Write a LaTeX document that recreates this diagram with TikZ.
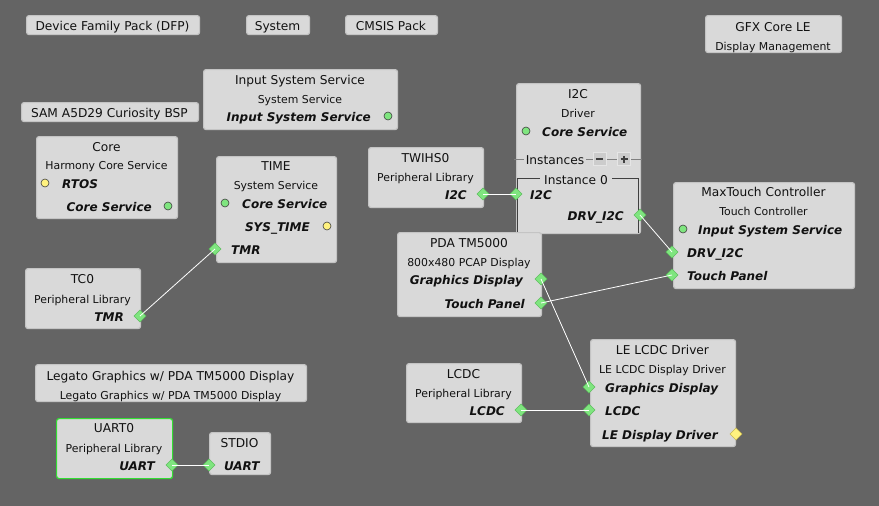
\documentclass[tikz,border=0pt]{standalone}
\usepackage{fontspec}
\setmainfont{DejaVu Sans}
\definecolor{bg}{HTML}{646464}
\definecolor{boxfill}{HTML}{D9D9D9}
\definecolor{boxline}{HTML}{C4C4C4}
\definecolor{txt}{HTML}{111111}
\definecolor{pgreen}{HTML}{7FE57F}
\definecolor{pgreenl}{HTML}{5CBF5C}
\definecolor{pyellow}{HTML}{FFF27F}
\definecolor{pyellowl}{HTML}{C8B850}
\definecolor{selgreen}{HTML}{33DD33}
\tikzset{
  box/.style={draw=boxline, fill=boxfill, rounded corners=2.5pt, line width=1.2pt, inner sep=0pt, anchor=north west},
  ttl/.style={font=\fontsize{12.2}{14}\selectfont, text=txt, inner sep=0pt, anchor=mid, yshift=-2.5pt},
  sub/.style={font=\fontsize{10.9}{13}\selectfont, text=txt, inner sep=0pt, anchor=mid, yshift=-2.5pt},
  prt/.style={font=\fontsize{12}{14}\selectfont\bfseries\itshape, text=txt, inner sep=0pt, yshift=-2.5pt},
  pl/.style={prt, anchor=mid west},
  pr/.style={prt, anchor=mid east},
  gdia/.style={rectangle, rotate=45, minimum size=8.4pt, inner sep=0pt, fill=pgreen, draw=pgreenl, line width=0.6pt},
  ydia/.style={gdia, fill=pyellow, draw=pyellowl},
  gcirc/.style={circle, minimum size=8pt, inner sep=0pt, fill=pgreen, draw=black!75, line width=0.6pt},
  ycirc/.style={gcirc, fill=pyellow},
  conn/.style={draw=white, line width=0.8pt},
  btn/.style={rectangle, minimum size=13pt, inner sep=0pt, fill=black!20, draw=white!90!black, line width=0.8pt},
}
\begin{document}
\begin{tikzpicture}[x=1pt,y=-1pt]
\useasboundingbox (0,0) rectangle (879,506);
\fill[bg] (0,0) rectangle (879,506);

% ---------- simple boxes ----------
\node[box, minimum width=173pt, minimum height=19pt] (dfp) at (26,15) {};
\node[ttl] (dfp-t) at (112.5,25.5) {Device Family Pack (DFP)};
\node[box, minimum width=63pt, minimum height=19pt] (sys) at (246,15) {};
\node[ttl] (sys-t) at (277.5,25.5) {System};
\node[box, minimum width=92pt, minimum height=19pt] (cmsis) at (345,15) {};
\node[ttl] (cmsis-t) at (391,25.5) {CMSIS Pack};
\node[box, minimum width=136pt, minimum height=37pt] (gfx) at (705,15) {};
\node[ttl] (gfx-t) at (773,26.5) {GFX Core LE};
\node[sub] (gfx-s) at (773,45) {Display Management};
\node[box, minimum width=177pt, minimum height=19pt] (bsp) at (21,102) {};
\node[ttl] (bsp-t) at (109.5,112) {SAM A5D29 Curiosity BSP};

% ---------- Input System Service ----------
\node[box, minimum width=194pt, minimum height=60pt] (iss) at (203,69) {};
\node[ttl] (iss-t) at (300,79) {Input System Service};
\node[sub] (iss-s) at (300,98) {System Service};
\node[pr] (iss-p) at (371,116) {Input System Service};
\node[gcirc] (iss-o) at (388,116) {};

% ---------- Core ----------
\node[box, minimum width=141pt, minimum height=82pt] (core) at (36,136) {};
\node[ttl] (core-t) at (106.5,146) {Core};
\node[sub] (core-s) at (106.5,164.5) {Harmony Core Service};
\node[ycirc] (core-rc) at (45,183) {};
\node[pl] (core-r) at (62,183) {RTOS};
\node[pr] (core-c) at (152,206) {Core Service};
\node[gcirc] (core-cc) at (168,206) {};

% ---------- TIME ----------
\node[box, minimum width=120pt, minimum height=106pt] (time) at (216,156) {};
\node[ttl] (time-t) at (276,165.5) {TIME};
\node[sub] (time-s) at (276,184.5) {System Service};
\node[gcirc] (time-cc) at (225,203) {};
\node[pl] (time-c) at (242,203) {Core Service};
\node[pr] (time-st) at (310,226) {SYS\_TIME};
\node[ycirc] (time-stc) at (327,226) {};
\node[pl] (time-tm) at (231,249) {TMR};
\node[gdia] (time-tmr) at (215,249) {};

% ---------- TC0 ----------
\node[box, minimum width=115pt, minimum height=60pt] (tc0) at (25,268) {};
\node[ttl] (tc0-t) at (82.5,278) {TC0};
\node[sub] (tc0-s) at (82.5,298) {Peripheral Library};
\node[pr] (tc0-tm) at (124,316) {TMR};
\node[gdia] (tc0-tmr) at (140,316) {};

% ---------- TWIHS0 ----------
\node[box, minimum width=115pt, minimum height=60pt] (twi) at (368,147) {};
\node[ttl] (twi-t) at (425.5,157) {TWIHS0};
\node[sub] (twi-s) at (425.5,176) {Peripheral Library};
\node[pr] (twi-p) at (467,194) {I2C};
\node[gdia] (twi-i2c) at (483,194) {};

% ---------- I2C driver ----------
\node[box, minimum width=124pt, minimum height=150pt] (i2c) at (516,83) {};
\node[ttl] (i2c-t) at (578,93.5) {I2C};
\node[sub] (i2c-s) at (578,112) {Driver};
\node[gcirc] (i2c-cc) at (526,131) {};
\node[pl] (i2c-c) at (542,131) {Core Service};
\draw[black!50, line width=0.8pt] (514,159) -- (642,159);
\node[ttl, fill=boxfill, inner xsep=2pt, inner ysep=1pt] (i2c-inst) at (555,159) {Instances};
\node[btn] (i2c-minus) at (599.5,159) {};
\node[btn] (i2c-plus) at (624,159) {};
\draw[black!75, line width=1.6pt] ([xshift=-3.5pt]i2c-minus.center) -- ([xshift=3.5pt]i2c-minus.center);
\draw[black!75, line width=1.6pt] ([xshift=-3.5pt]i2c-plus.center) -- ([xshift=3.5pt]i2c-plus.center)
  ([yshift=-3.5pt]i2c-plus.center) -- ([yshift=3.5pt]i2c-plus.center);
\draw[black!75, line width=0.9pt] (517.5,233) -- (517.5,178.5) -- (638,178.5) -- (638,233);
\node[ttl, fill=boxfill, inner xsep=4pt, inner ysep=1pt] (i2c-i0) at (576,179) {Instance 0};
\node[pl] (i2c-ip) at (530,194) {I2C};
\node[gdia] (i2c-i2c) at (516,194) {};
\node[pr] (i2c-dp) at (624,215) {DRV\_I2C};
\node[gdia] (i2c-drv) at (640,215) {};

% ---------- MaxTouch ----------
\node[box, minimum width=181pt, minimum height=106pt] (mxt) at (673,182) {};
\node[ttl] (mxt-t) at (763.5,191.5) {MaxTouch Controller};
\node[sub] (mxt-s) at (763.5,210.5) {Touch Controller};
\node[gcirc] (mxt-ic) at (683,229) {};
\node[pl] (mxt-i) at (698,229) {Input System Service};
\node[pl] (mxt-dp) at (687,252) {DRV\_I2C};
\node[gdia] (mxt-drv) at (672,252) {};
\node[pl] (mxt-tpp) at (687,275) {Touch Panel};
\node[gdia] (mxt-tp) at (672,275) {};

% ---------- PDA TM5000 ----------
\node[box, minimum width=144pt, minimum height=84pt] (pda) at (397,232) {};
\node[ttl] (pda-t) at (469,242) {PDA TM5000};
\node[sub] (pda-s) at (469,261) {800x480 PCAP Display};
\node[pr] (pda-gdp) at (523,279) {Graphics Display};
\node[gdia] (pda-gd) at (541,279) {};
\node[pr] (pda-tpp) at (525,303) {Touch Panel};
\node[gdia] (pda-tp) at (541,303) {};

% ---------- LE LCDC Driver ----------
\node[box, minimum width=145pt, minimum height=107pt] (lel) at (590,339) {};
\node[ttl] (lel-t) at (662.5,349) {LE LCDC Driver};
\node[sub] (lel-s) at (662.5,368) {LE LCDC Display Driver};
\node[pl] (lel-gdp) at (605,387) {Graphics Display};
\node[gdia] (lel-gd) at (589,387) {};
\node[pl] (lel-lp) at (605,410) {LCDC};
\node[gdia] (lel-lcdc) at (589,410) {};
\node[pl] (lel-ddp) at (602,434) {LE Display Driver};
\node[ydia] (lel-dd) at (736,434) {};

% ---------- LCDC ----------
\node[box, minimum width=115pt, minimum height=59pt] (lcdc) at (406,363) {};
\node[ttl] (lcdc-t) at (463.5,373) {LCDC};
\node[sub] (lcdc-s) at (463.5,392) {Peripheral Library};
\node[pr] (lcdc-p) at (505,410) {LCDC};
\node[gdia] (lcdc-o) at (521,410) {};

% ---------- Legato ----------
\node[box, minimum width=271pt, minimum height=37pt] (leg) at (35,364) {};
\node[ttl] (leg-t) at (170.5,375) {Legato Graphics w/ PDA TM5000 Display};
\node[sub] (leg-s) at (170.5,394) {Legato Graphics w/ PDA TM5000 Display};

% ---------- UART0 / STDIO ----------
\node[box, draw=selgreen, minimum width=116pt, minimum height=60pt] (uart) at (56,418) {};
\node[ttl] (uart-t) at (114,427.5) {UART0};
\node[sub] (uart-s) at (114,447) {Peripheral Library};
\node[pr] (uart-p) at (155,465) {UART};
\node[gdia] (uart-o) at (172,465) {};
\node[box, minimum width=61pt, minimum height=42pt] (stdio) at (209,432) {};
\node[ttl] (stdio-t) at (239.5,442) {STDIO};
\node[pl] (stdio-p) at (224,465) {UART};
\node[gdia] (stdio-i) at (209,465) {};

% ---------- connectors ----------
\draw[conn] (tc0-tmr.center) -- (time-tmr.center);
\draw[conn] (twi-i2c.center) -- (i2c-i2c.center);
\draw[conn] (i2c-drv.center) -- (mxt-drv.center);
\draw[conn] (pda-tp.center) -- (mxt-tp.center);
\draw[conn] (pda-gd.center) -- (lel-gd.center);
\draw[conn] (lcdc-o.center) -- (lel-lcdc.center);
\draw[conn] (uart-o.center) -- (stdio-i.center);
\end{tikzpicture}
\end{document}
